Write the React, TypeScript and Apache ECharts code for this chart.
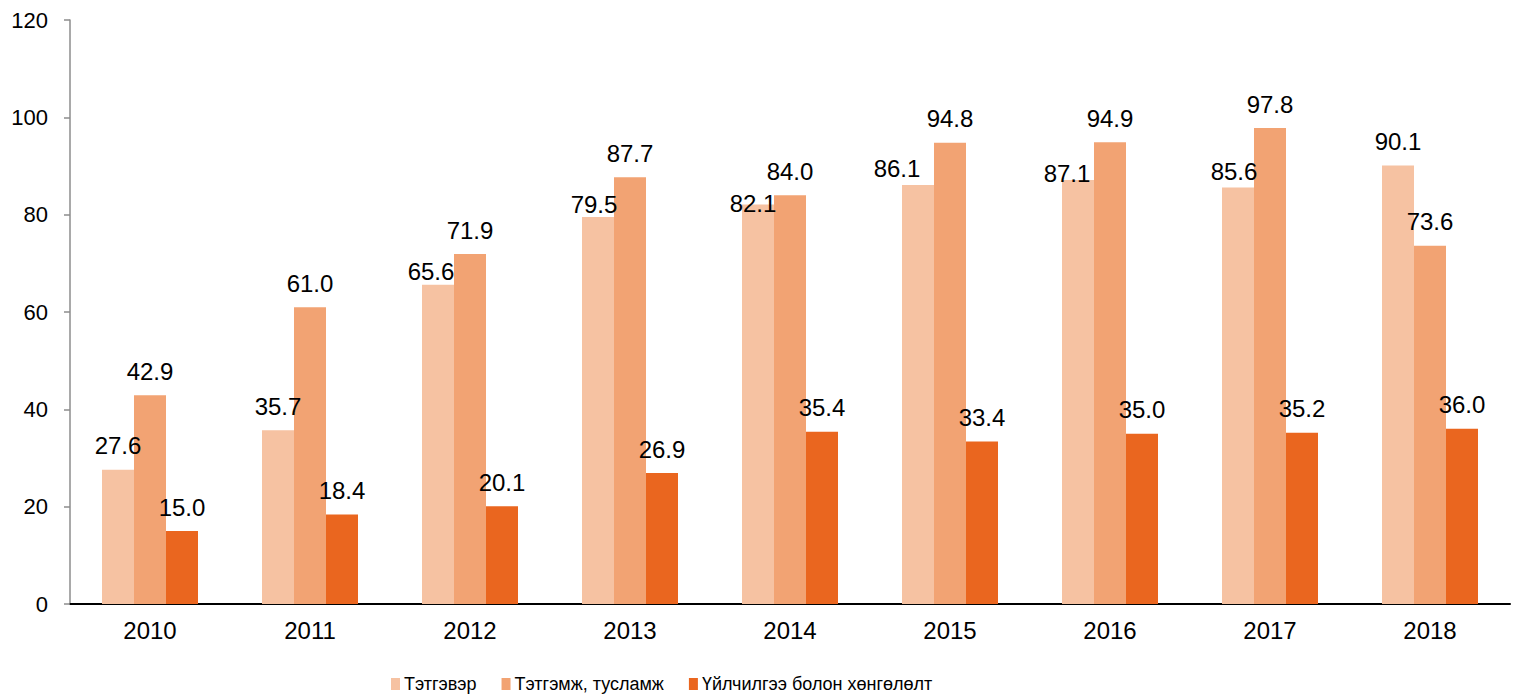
import React, { useEffect, useRef } from "react";
import * as echarts from "echarts";

const years = ["2010", "2011", "2012", "2013", "2014", "2015", "2016", "2017", "2018"];
const pension = [27.6, 35.7, 65.6, 79.5, 82.1, 86.1, 87.1, 85.6, 90.1];
const allowance = [42.9, 61.0, 71.9, 87.7, 84.0, 94.8, 94.9, 97.8, 73.6];
const services = [15.0, 18.4, 20.1, 26.9, 35.4, 33.4, 35.0, 35.2, 36.0];
const seriesNames = ["Тэтгэвэр", "Тэтгэмж, тусламж", "Үйлчилгээ болон хөнгөлөлт"];
const yTicks = { min: 0, max: 120, interval: 20 };

// label nudges (pixels) for the first series, as placed in the source
const pensionLabelNudge: [number, number][] = [
  [0, 0], [0, 0], [-7, 11], [-4, 11], [-5, 23], [-21, 8], [-11, 17], [-4, 8], [0, 0],
];

const colors = ["#F6C2A2", "#F2A373", "#EA661F"];
const FONT = "'Liberation Sans', Arial, sans-serif";

export default function App() {
  const ref = useRef<HTMLDivElement>(null);
  useEffect(() => {
    if (!ref.current) return;
    const chart = echarts.init(ref.current, undefined, { renderer: "svg" });
    const labelBase = {
      show: true,
      position: "top",
      distance: 12,
      color: "#000",
      fontSize: 24,
      fontFamily: FONT,
      formatter: (p: any) => Number(p.value).toFixed(1),
    };
    const mk = (name: string, vals: number[], color: string, nudges?: [number, number][]) => ({
      name,
      type: "bar",
      barWidth: 32,
      barGap: "0%",
      itemStyle: { color },
      label: labelBase,
      data: vals.map((v, i) =>
        nudges && (nudges[i][0] !== 0 || nudges[i][1] !== 0)
          ? { value: v, label: { offset: nudges[i] } }
          : v
      ),
    });
    chart.setOption({
      animation: false,
      textStyle: { fontFamily: FONT },
      color: colors,
      grid: { left: 70, right: 8, top: 20, bottom: 96, containLabel: false },
      legend: {
        data: seriesNames,
        bottom: 2,
        left: 386,
        itemWidth: 9,
        itemHeight: 12,
        itemGap: 25,
        icon: "rect",
        textStyle: { fontSize: 18, color: "#000", fontFamily: FONT, padding: [0, 0, 0, -1] },
      },
      xAxis: {
        type: "category",
        data: years,
        axisLine: { lineStyle: { color: "#000", width: 2 } },
        axisTick: { alignWithLabel: true, length: 6, lineStyle: { color: "#000", width: 1.5 } },
        axisLabel: { fontSize: 24, color: "#000", margin: 14, fontFamily: FONT },
      },
      yAxis: {
        type: "value",
        min: yTicks.min,
        max: yTicks.max,
        interval: yTicks.interval,
        axisLine: { show: true, lineStyle: { color: "#8C8C8C", width: 1.5 } },
        axisTick: { show: true, length: 6, lineStyle: { color: "#8C8C8C", width: 1.5 } },
        splitLine: { show: false },
        axisLabel: { fontSize: 22, color: "#000", margin: 22, fontFamily: FONT },
      },
      series: [
        mk(seriesNames[0], pension, colors[0], pensionLabelNudge),
        mk(seriesNames[1], allowance, colors[1]),
        mk(seriesNames[2], services, colors[2]),
      ],
    });
    return () => chart.dispose();
  }, []);
  return <div ref={ref} style={{ width: 1518, height: 700, position: "absolute", left: 0, top: 0 }} />;
}
